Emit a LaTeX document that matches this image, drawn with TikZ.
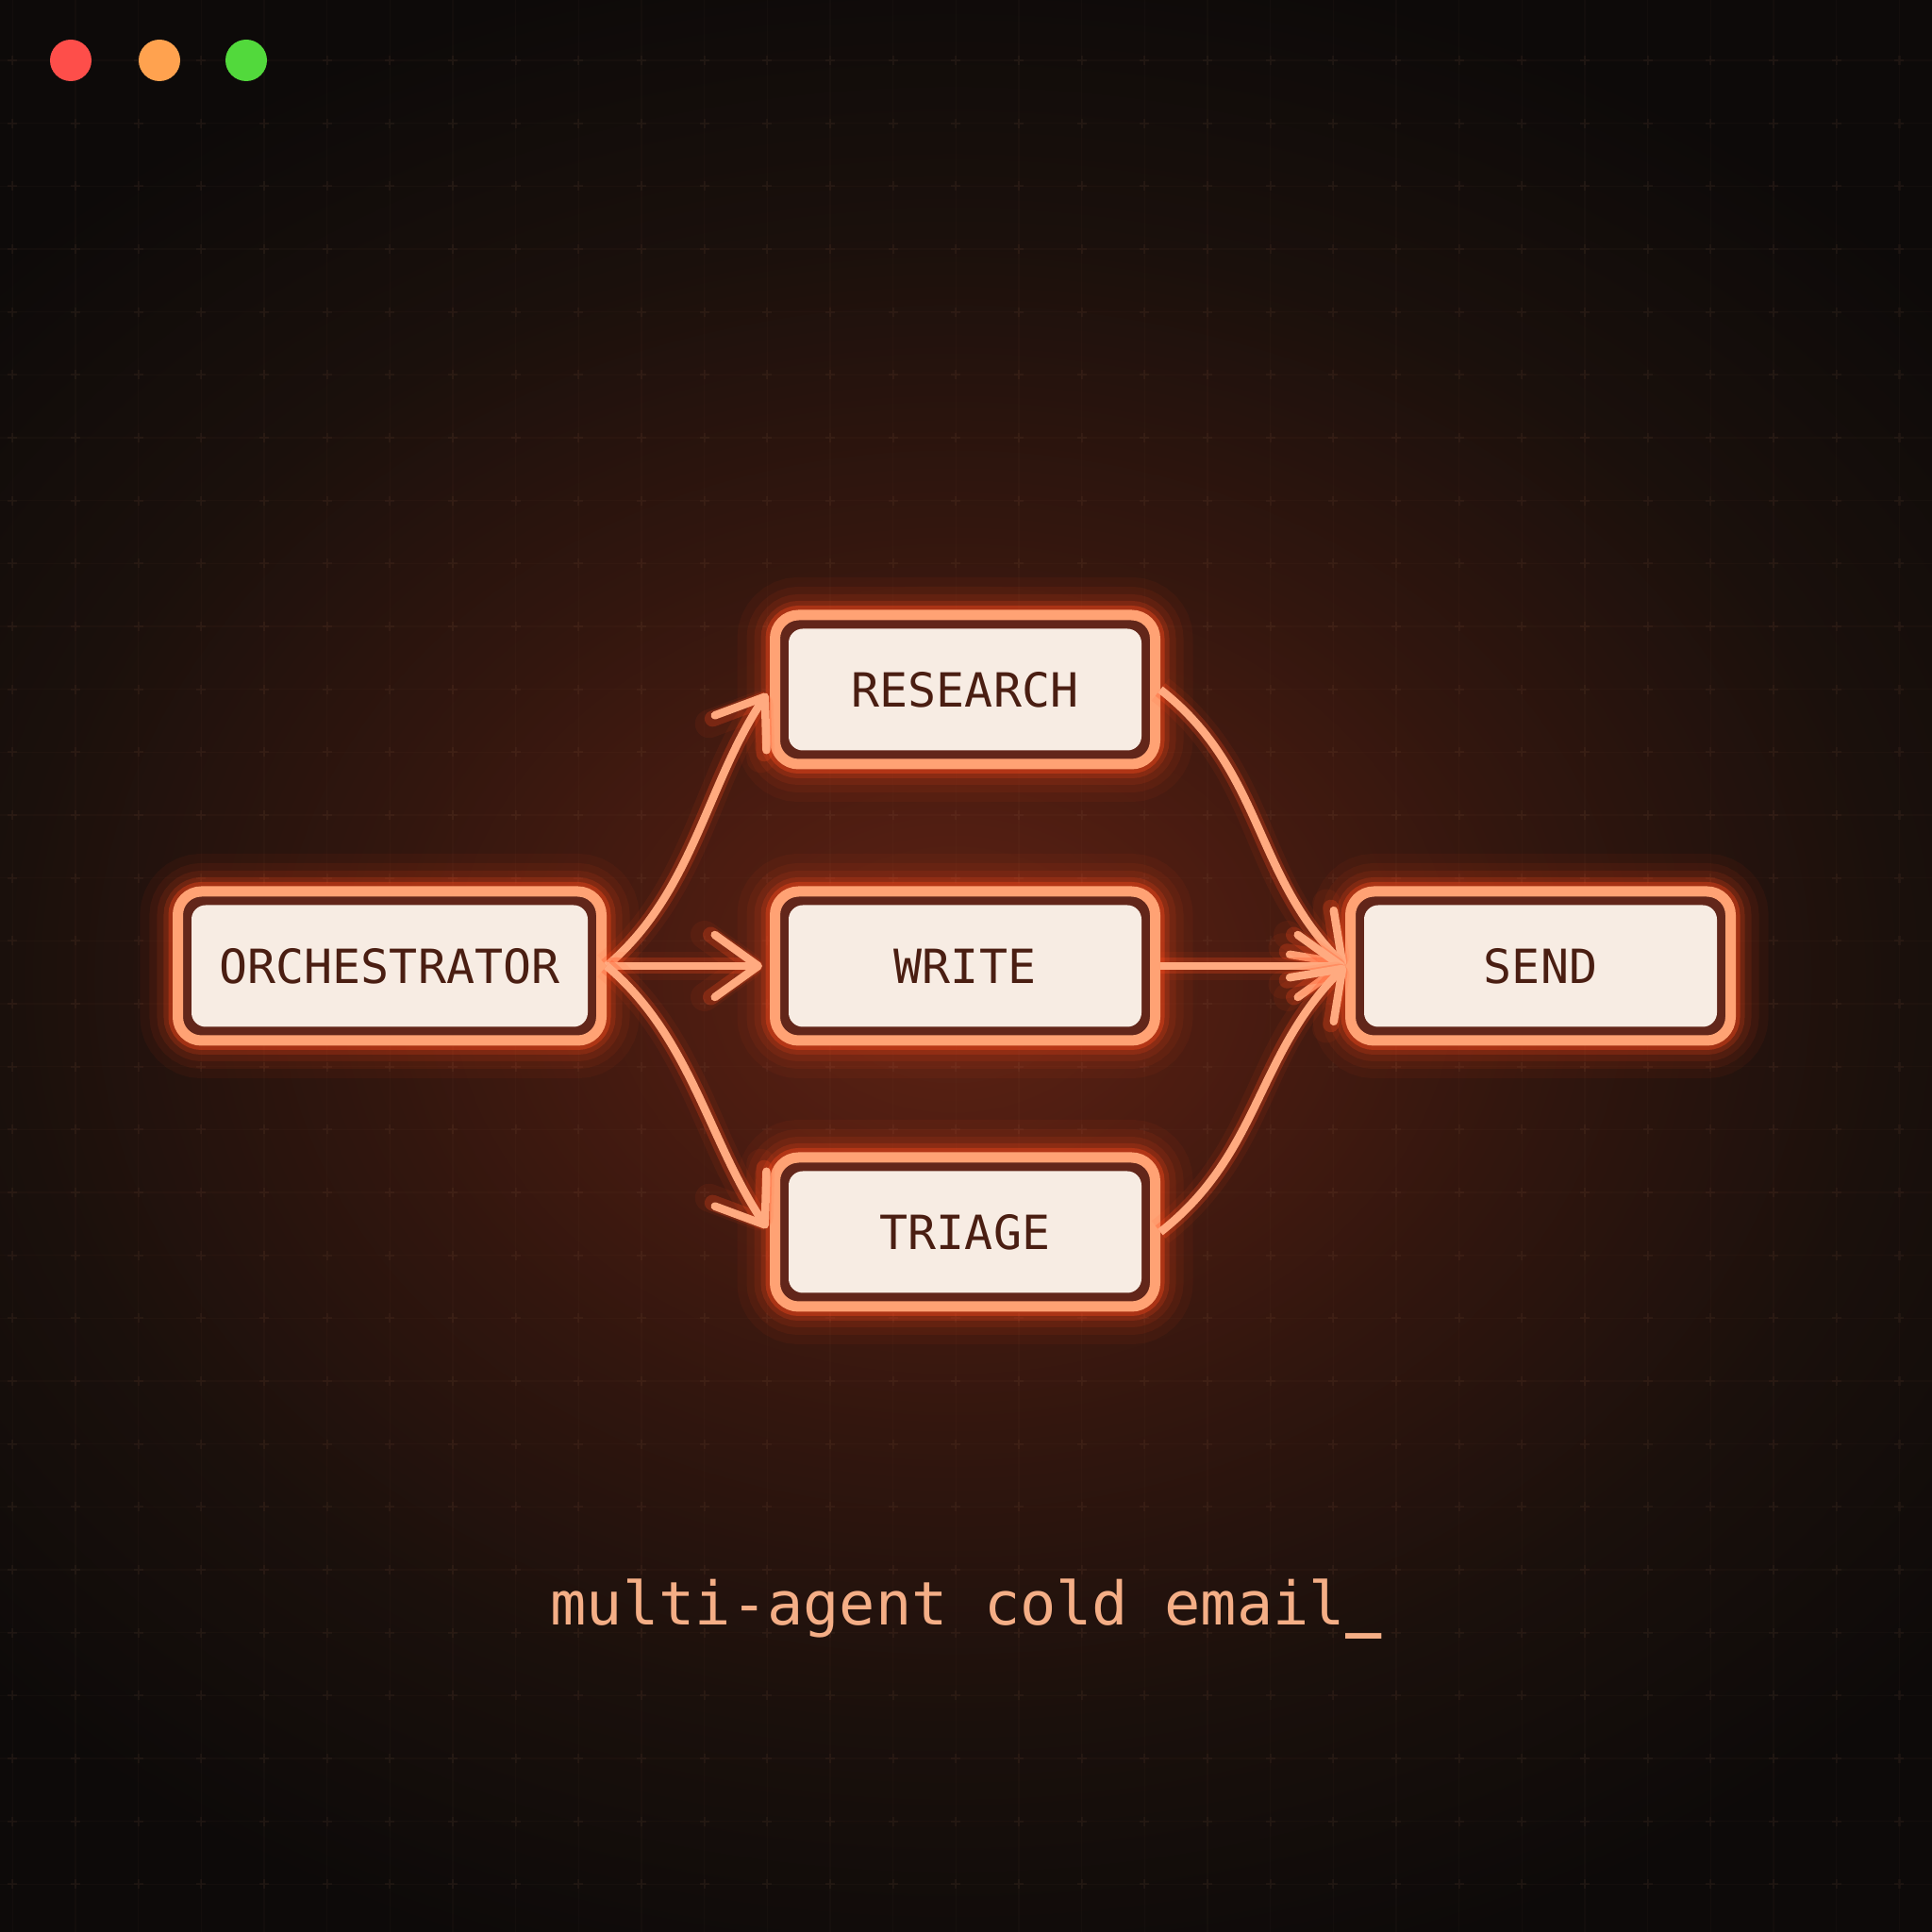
\documentclass[tikz,border=0pt]{standalone}
\usepackage{fontspec}
\newfontfamily\agentfont{DejaVu Sans Mono}
\usepackage{tikz}
\usetikzlibrary{arrows.meta, positioning, calc}

\definecolor{bgdark}{HTML}{0D0A09}
\definecolor{glowcore}{HTML}{5E2314}
\definecolor{glowmid}{HTML}{4C1C11}
\definecolor{glowlow}{HTML}{32160E}
\definecolor{glowedge}{HTML}{1A100C}
\definecolor{gridtone}{HTML}{9A6A50}
\definecolor{frameorange}{HTML}{FFA274}
\definecolor{gapbrown}{HTML}{62261A}
\definecolor{cream}{HTML}{F7ECE3}
\definecolor{labelbrown}{HTML}{4A1E12}
\definecolor{linepeach}{HTML}{FFAA80}
\definecolor{glowred}{HTML}{FF4A1C}
\definecolor{captionpeach}{HTML}{F4AE86}
\definecolor{dotred}{HTML}{FE4E4A}
\definecolor{dotorange}{HTML}{FFA24F}
\definecolor{dotgreen}{HTML}{52D93C}

\pgfdeclareradialshading{warmglow}{\pgfpoint{0bp}{0bp}}{color(0bp)=(glowcore); color(5bp)=(glowmid); color(11bp)=(glowlow); color(18bp)=(glowedge); color(25bp)=(bgdark); color(50bp)=(bgdark)}

\tikzset{
  agent/.style={rectangle, rounded corners=0.25cm, draw=frameorange, line width=0.11cm,
    fill=gapbrown, minimum width=4.03cm, minimum height=1.58cm,
    text=labelbrown, font=\agentfont\fontsize{14.2pt}{17pt}\selectfont,
    preaction={draw=glowred, line width=0.80cm, opacity=0.05},
    preaction={draw=glowred, line width=0.60cm, opacity=0.07},
    preaction={draw=glowred, line width=0.44cm, opacity=0.10},
    preaction={draw=glowred, line width=0.30cm, opacity=0.18},
    preaction={draw=glowred, line width=0.20cm, opacity=0.35},
    path picture={\fill[cream, rounded corners=0.15cm]
      ([shift={(0.145,0.145)}]path picture bounding box.south west) rectangle
      ([shift={(-0.145,-0.145)}]path picture bounding box.north east);}},
  flow/.style={draw=linepeach, line width=0.085cm,
    -{Straight Barb[round, length=0.46cm, width=0.66cm]},
    preaction={draw=glowred, line width=0.30cm, opacity=0.07},
    preaction={draw=glowred, line width=0.17cm, opacity=0.25}},
  caption/.style={text=captionpeach, font=\agentfont\fontsize{18.1pt}{22pt}\selectfont, anchor=base}
}

\begin{document}
\begin{tikzpicture}
  \useasboundingbox (0,0) rectangle (20.48,20.48);
  \clip (0,0) rectangle (20.48,20.48);

  % Backdrop
  \fill[bgdark] (0,0) rectangle (20.48,20.48);
  \shade[shading=warmglow] (10.1,10.1) ellipse (14cm and 11cm);
  \begin{scope}[shift={(0.80,19.84)}]
    \draw[gridtone, opacity=0.045, line width=0.4pt, step=0.6667] (-1,-21) grid (21,1);
    \foreach \i in {-1,...,29}
      \foreach \j in {-29,...,0}
        \draw[gridtone, opacity=0.09, line width=0.6pt]
          (\i*0.6667-0.05,\j*0.6667) -- ++(0.10,0) (\i*0.6667,\j*0.6667-0.05) -- ++(0,0.10);
  \end{scope}

  % Window buttons
  \foreach \c/\x in {dotred/0.75, dotorange/1.69, dotgreen/2.61}
    \fill[\c] (\x,19.84) circle (0.22);

  % Agents
  \node[agent] (write) at (10.23,10.24) {WRITE};
  \node[agent, above=1.24cm of write] (research) {RESEARCH};
  \node[agent, below=1.13cm of write] (triage) {TRIAGE};
  \node[agent, minimum width=4.49cm, left=1.73cm of write] (orch) {ORCHESTRATOR};
  \node[agent, right=1.96cm of write] (send) {SEND};

  % Fan out
  \draw[flow, shorten >=0.05cm] (orch.east) to[out=40, in=-124, looseness=0.9] (research.west);
  \draw[flow, shorten >=0.08cm] (orch.east) -- (write.west);
  \draw[flow, shorten >=0.05cm] (orch.east) to[out=-40, in=124, looseness=0.9] (triage.west);

  % Fan in
  \draw[flow] (research.east) to[out=-38, in=135] (send.west);
  \draw[flow] (write.east) -- (send.west);
  \draw[flow] (triage.east) to[out=38, in=-135] (send.west);

  \node[caption] (title) at (10.24,3.26) {multi-agent cold email{\bfseries\_}};
\end{tikzpicture}
\end{document}
